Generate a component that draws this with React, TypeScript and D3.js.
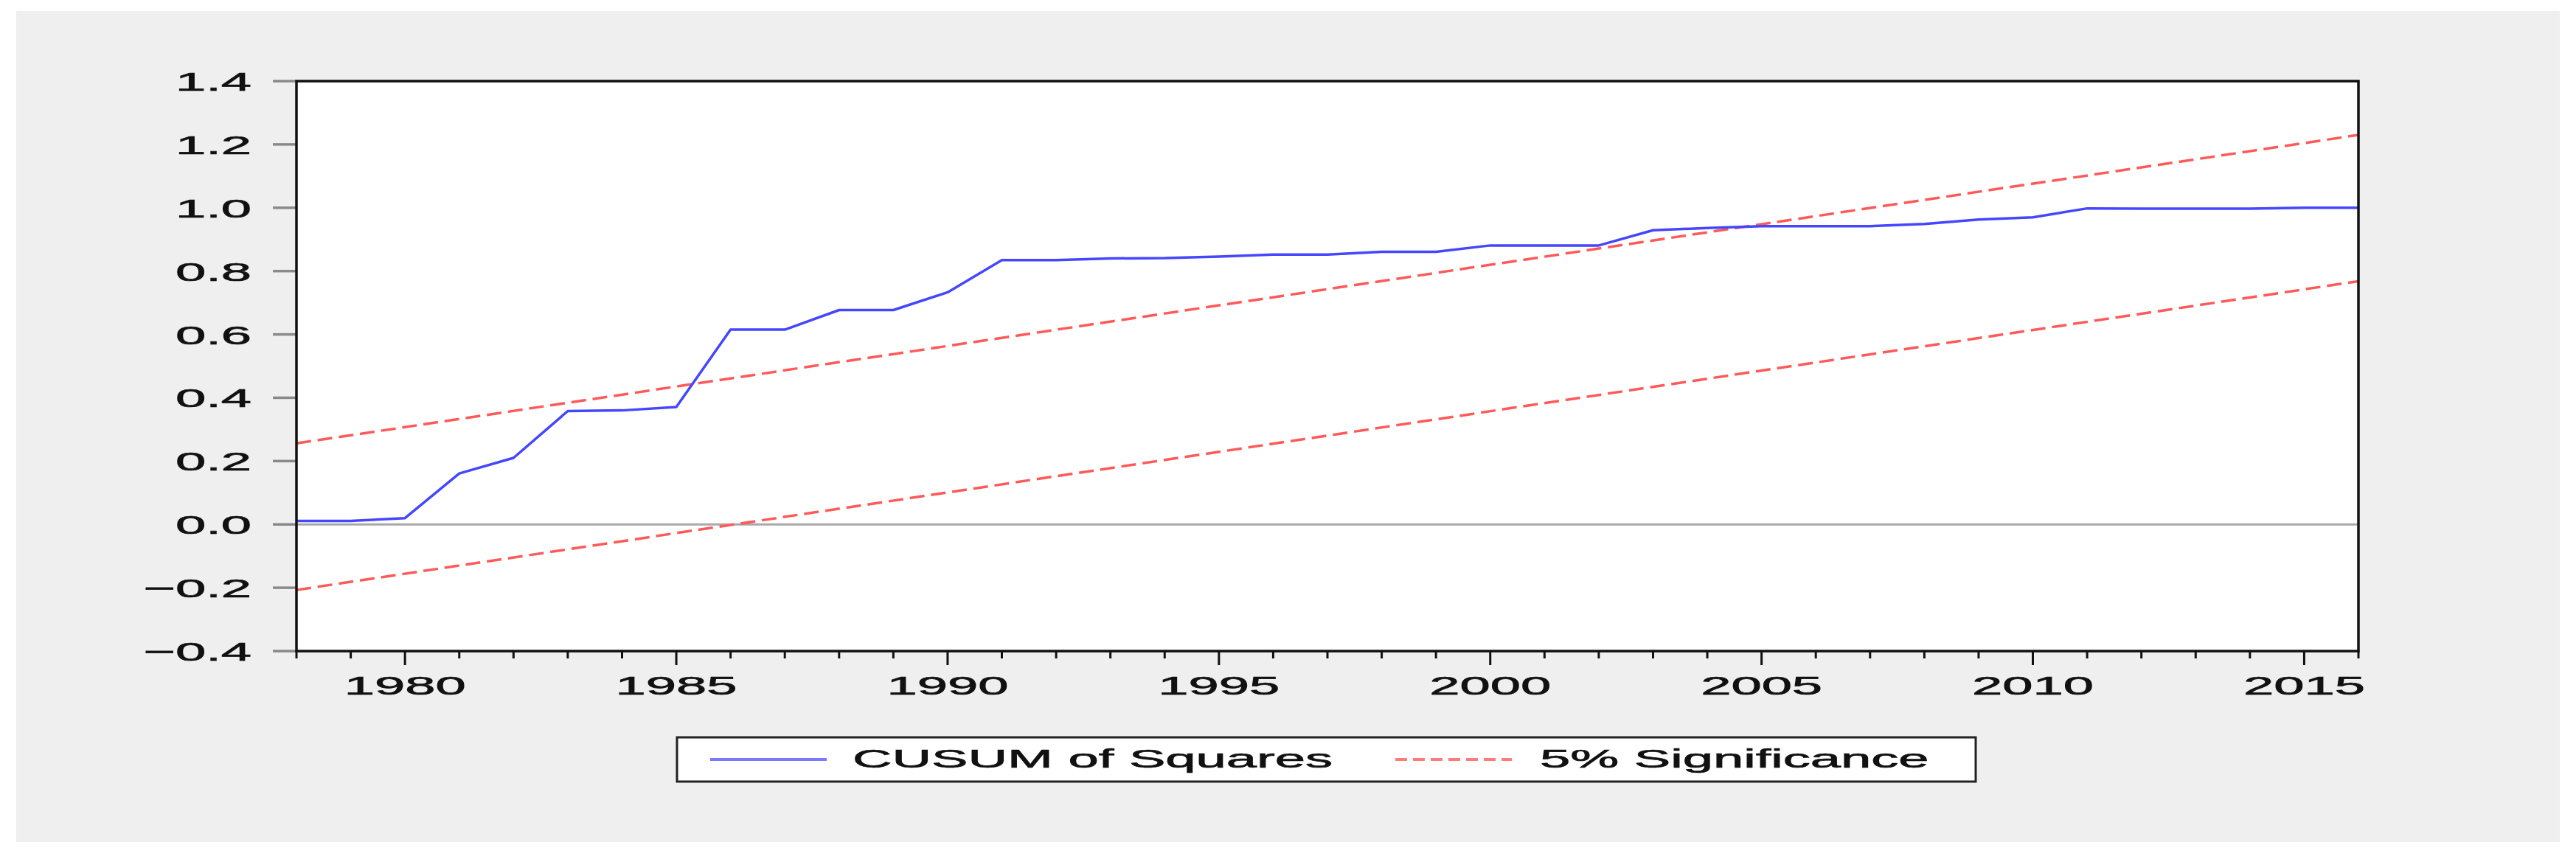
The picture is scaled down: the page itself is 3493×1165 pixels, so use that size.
import React from 'react';
import * as d3 from 'd3';

// CUSUM of squares test, 1978-2016
const years = [
  1978, 1979, 1980, 1981, 1982, 1983, 1984, 1985, 1986, 1987,
  1988, 1989, 1990, 1991, 1992, 1993, 1994, 1995, 1996, 1997,
  1998, 1999, 2000, 2001, 2002, 2003, 2004, 2005, 2006, 2007,
  2008, 2009, 2010, 2011, 2012, 2013, 2014, 2015, 2016,
];
const cusumSq = [
  0.011, 0.011, 0.020, 0.161, 0.210, 0.358, 0.360, 0.371, 0.615, 0.615,
  0.677, 0.677, 0.733, 0.835, 0.835, 0.840, 0.841, 0.846, 0.852, 0.852,
  0.861, 0.861, 0.881, 0.881, 0.881, 0.929, 0.936, 0.942, 0.942, 0.942,
  0.949, 0.963, 0.970, 0.998, 0.997, 0.997, 0.997, 1.000, 1.000,
];
// 5% significance bounds (straight lines, read at both ends)
const boundYears = [1978, 2016];
const upperBound = [0.256, 1.230];
const lowerBound = [-0.207, 0.768];

const yTicks = [1.4, 1.2, 1.0, 0.8, 0.6, 0.4, 0.2, 0.0, -0.2, -0.4];
const xLabels = [1980, 1985, 1990, 1995, 2000, 2005, 2010, 2015];

const W = 3493;
const H = 1165;
const FONT = '"Liberation Sans", Arial, sans-serif';
const SX = 2.06; // the original's text is stretched sideways

export default function App() {
  const x = d3.scaleLinear().domain([1978, 2016]).range([402, 3198]);
  const y = d3.scaleLinear().domain([-0.4, 1.4]).range([883, 110]);

  const line = d3.line<[number, number]>()
    .x(d => x(d[0]))
    .y(d => y(d[1]));

  const cusumPath = line(years.map((yr, i) => [yr, cusumSq[i]]));
  const upperPath = line(boundYears.map((yr, i) => [yr, upperBound[i]]));
  const lowerPath = line(boundYears.map((yr, i) => [yr, lowerBound[i]]));

  const fmt = (v: number) => (v < 0 ? '\u2212' : '') + Math.abs(v).toFixed(1);

  const textProps = {
    fontFamily: FONT,
    fontSize: 36,
    fill: '#111',
    stroke: '#111',
    strokeWidth: 0.7,
  };

  return (
    <svg width={W} height={H} style={{ position: 'fixed', left: 0, top: 0, display: 'block' }}>
      <rect x={0} y={0} width={W} height={H} fill="#ffffff" />
      <rect x={22} y={15} width={3449} height={1127} fill="#efefef" />

      {/* plot area */}
      <rect x={x(1978)} y={y(1.4)} width={x(2016) - x(1978)} height={y(-0.4) - y(1.4)} fill="#ffffff" />

      {/* y ticks + labels */}
      {yTicks.map(t => (
        <g key={t}>
          <line x1={370} x2={x(1978)} y1={y(t)} y2={y(t)} stroke="#8a8a8a" strokeWidth={3.5} />
          <text transform={`translate(341,${y(t) + 13}) scale(${SX},1)`} textAnchor="end" {...textProps}>
            {fmt(t)}
          </text>
        </g>
      ))}

      {/* zero line */}
      <line x1={x(1978)} x2={x(2016)} y1={y(0)} y2={y(0)} stroke="#a8a8a8" strokeWidth={3} />

      {/* significance bounds */}
      <path d={upperPath ?? ''} fill="none" stroke="#ff5a5a" strokeWidth={3.5} strokeDasharray="20 9" />
      <path d={lowerPath ?? ''} fill="none" stroke="#ff5a5a" strokeWidth={3.5} strokeDasharray="20 9" />

      {/* CUSUM of squares */}
      <path d={cusumPath ?? ''} fill="none" stroke="#4646ff" strokeWidth={3.5} strokeLinejoin="round" />

      {/* frame */}
      <rect
        x={x(1978)}
        y={y(1.4)}
        width={x(2016) - x(1978)}
        height={y(-0.4) - y(1.4)}
        fill="none"
        stroke="#111"
        strokeWidth={3.5}
      />

      {/* x ticks + labels */}
      {years.map(yr => (
        <line
          key={yr}
          x1={x(yr)}
          x2={x(yr)}
          y1={y(-0.4)}
          y2={y(-0.4) + (xLabels.includes(yr) ? 19 : 10)}
          stroke="#111"
          strokeWidth={3}
        />
      ))}
      {xLabels.map(yr => (
        <text key={yr} transform={`translate(${x(yr)},942) scale(${SX},1)`} textAnchor="middle" {...textProps}>
          {yr}
        </text>
      ))}

      {/* legend */}
      <rect x={918} y={1000} width={1761} height={60} fill="#ffffff" stroke="#222" strokeWidth={3} />
      <line x1={963} x2={1121} y1={1030} y2={1030} stroke="#7a7aff" strokeWidth={4} />
      <text transform={`translate(1156,1041) scale(${SX},1)`} {...textProps}>
        CUSUM of Squares
      </text>
      <line x1={1892} x2={2050} y1={1030} y2={1030} stroke="#ff7c7c" strokeWidth={4} strokeDasharray="16 8" />
      <text transform={`translate(2088,1041) scale(${SX},1)`} {...textProps}>
        5% Significance
      </text>
    </svg>
  );
}
